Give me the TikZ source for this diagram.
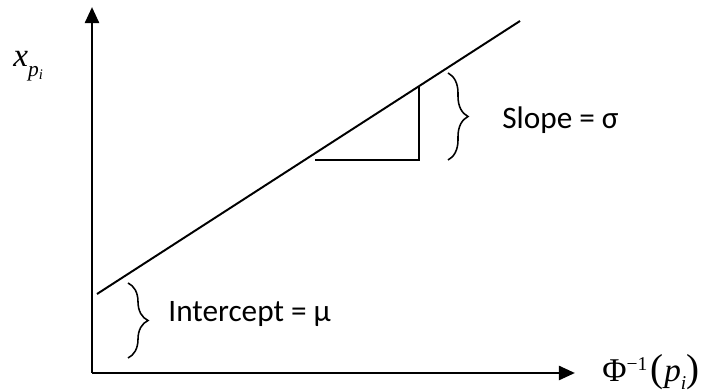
\documentclass[tikz,border=0pt]{standalone}
\usepackage{fontspec}
\setmainfont{Liberation Serif}
\newfontfamily\calfont{Carlito}
\usetikzlibrary{arrows.meta,decorations.pathreplacing}
\tikzset{
  ax/.style={-{Triangle[length=2.9mm,width=2.5mm]},line width=1.5pt},
  ln/.style={line width=1pt},
  brc/.style={decorate,decoration={brace,amplitude=3.6mm},line width=0.8pt},
  lbl/.style={font=\calfont\fontsize{16}{19}\selectfont,anchor=west,inner sep=0pt},
  mlbl/.style={font=\fontsize{17}{20}\selectfont,anchor=base west,inner sep=0pt}
}

\begin{document}
\begin{tikzpicture}[x=0.18cm,y=0.18cm]
\useasboundingbox (-9.2,-1.8) rectangle (61.7,37.3);
% axes
\coordinate (O) at (0,0);
\coordinate (ytip) at (0,36.6);
\coordinate (xtip) at (48.3,0);
\draw[ax] (O)--(ytip);
\draw[ax] (O)--(xtip);
% fitted line and slope triangle
\coordinate (lA) at (0.5,7.9);
\coordinate (lB) at (42.8,35.2);
\draw[ln] (lA)--(lB);
\coordinate (tL) at (22.3,21.3);
\coordinate (tR) at (32.7,21.3);
\coordinate (tT) at (32.7,28.6);
\draw[ln] (tL)--(tR)--(tT);
% braces
\coordinate (sbT) at (35.6,30);
\coordinate (sbB) at (35.6,21.3);
\draw[brc] (sbT)--(sbB);
\coordinate (ibT) at (3.6,9);
\coordinate (ibB) at (3.6,1.5);
\draw[brc] (ibT)--(ibB);
% labels
\node[lbl] (slope) at (41.0,25.3) {Slope = σ};
\node[lbl] (icpt) at (7.6,5.9) {Intercept = μ};
\node[mlbl] (ylab) at (-7.9,30.6) {\textit{x}\raisebox{-5pt}{\fontsize{11}{13}\selectfont\textit{p}\raisebox{-1.5pt}{\fontsize{7.5}{9}\selectfont\textit{i}}}};
\node[mlbl] (xlab) at (51.0,-0.9) {Φ\raisebox{0.75ex}{\fontsize{10}{12}\selectfont −1}\kern1.5pt{\fontsize{20}{22}\selectfont(}\kern0.5pt\textit{p}\raisebox{-0.5ex}{\fontsize{10}{12}\selectfont\textit{i}}{\fontsize{20}{22}\selectfont)}};
\end{tikzpicture}
\end{document}
